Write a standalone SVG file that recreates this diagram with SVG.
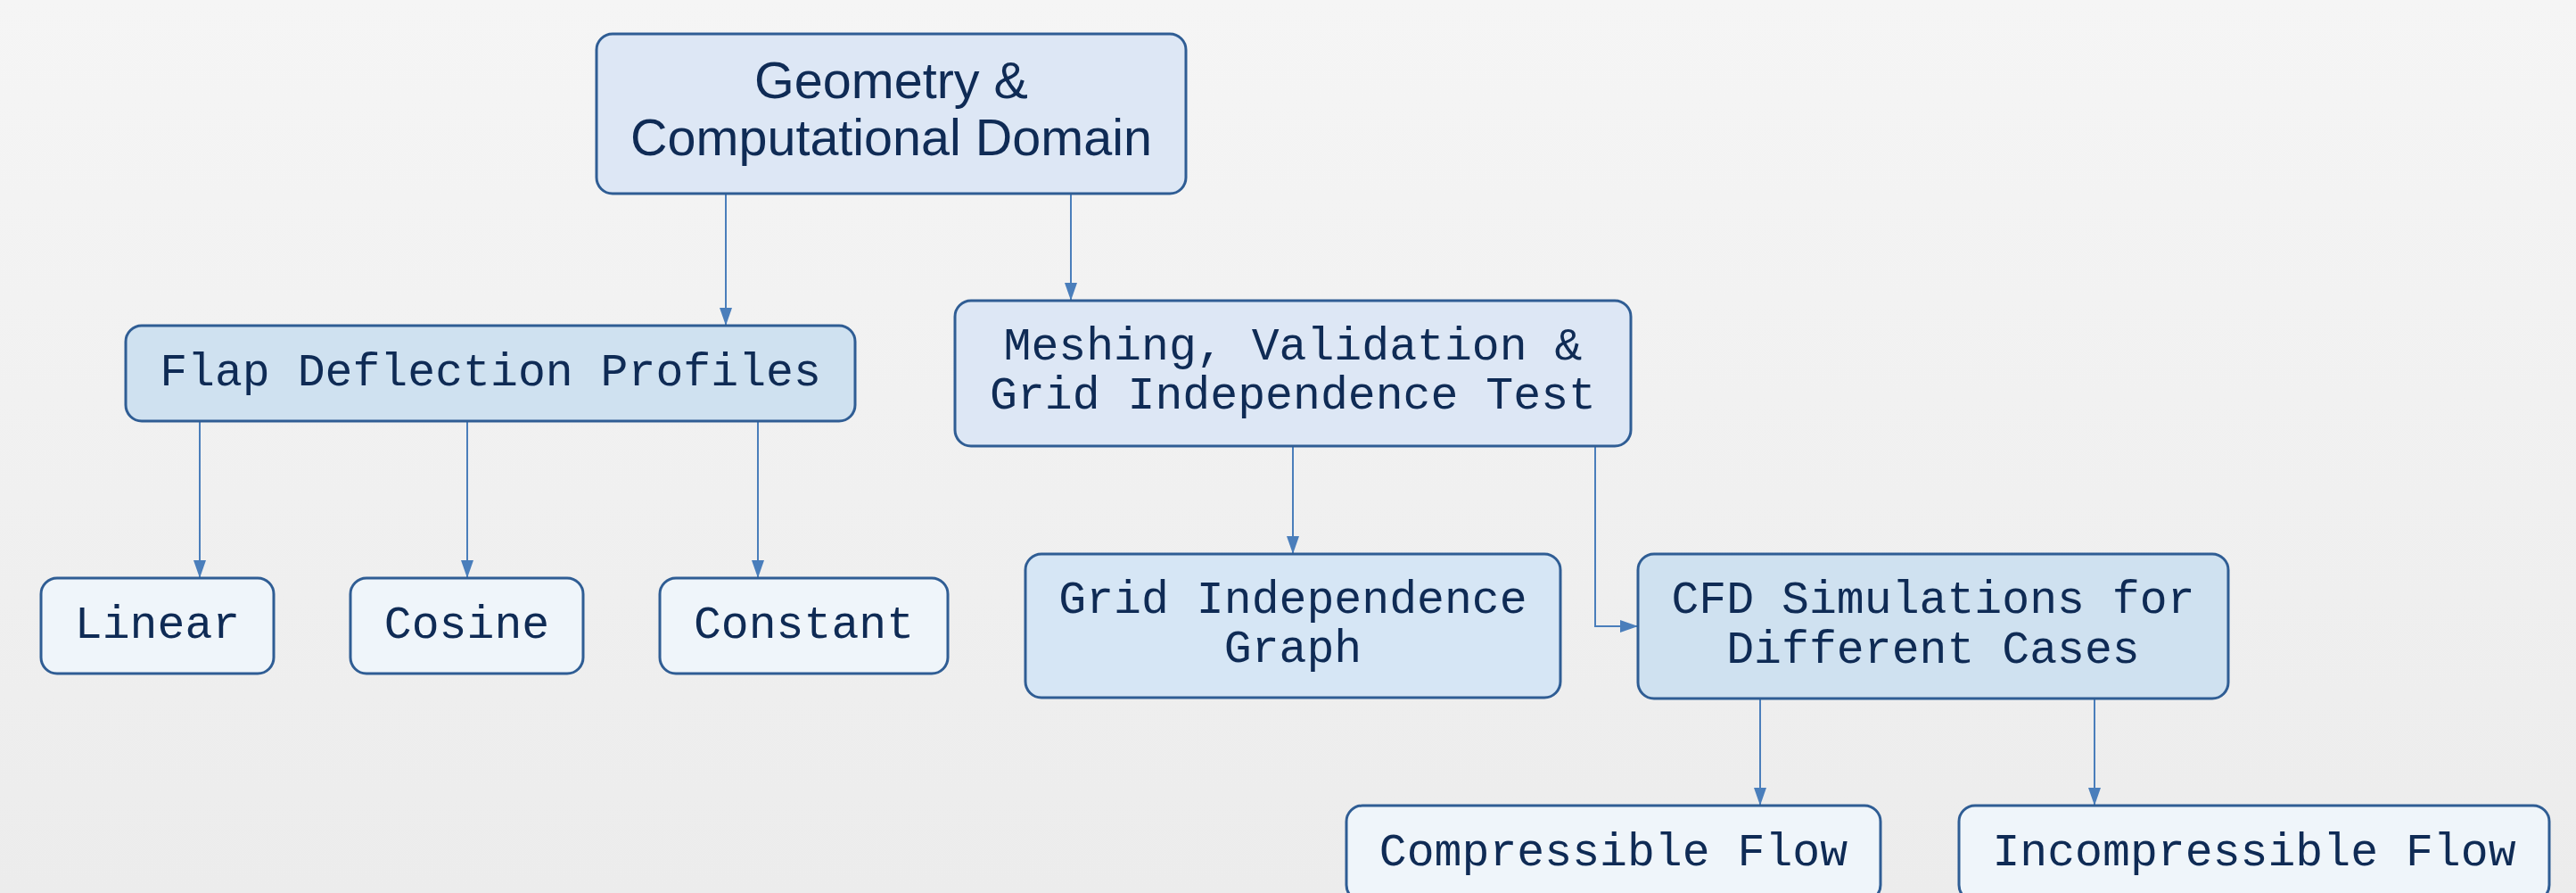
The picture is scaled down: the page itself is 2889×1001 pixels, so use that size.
<svg xmlns="http://www.w3.org/2000/svg" width="2889" height="1001" viewBox="0 0 2889 1001">
<defs>
<linearGradient id="bg" x1="0" y1="0" x2="0" y2="1">
<stop offset="0" stop-color="#f5f5f5"/>
<stop offset="1" stop-color="#ececec"/>
</linearGradient>
<marker id="ah" markerUnits="userSpaceOnUse" markerWidth="20" markerHeight="16" refX="20" refY="8" orient="auto">
<path d="M0,1 L20,8 L0,15 z" fill="#4a7ebb"/>
</marker>
</defs>
<style>
.n{stroke:#2f5d94;stroke-width:3}
.t1{fill:#dde7f5}.t2{fill:#cfe1f0}.t3{fill:#d6e6f5}.lf{fill:#eff5fa}
.sans{font-family:"Liberation Sans",Arial,sans-serif;font-size:57.5px;fill:#0f2b55;text-anchor:middle}
.mono{font-family:"Liberation Mono","Courier New",monospace;font-size:51.5px;fill:#0f2b55;text-anchor:middle}
.c{stroke:#4a7ebb;stroke-width:2;fill:none;marker-end:url(#ah)}
</style>
<rect width="2889" height="1001" fill="url(#bg)"/>
<g id="connectors">
<path class="c" d="M814,217 V365"/>
<path class="c" d="M1201,217 V337"/>
<path class="c" d="M224,472 V648"/>
<path class="c" d="M524,472 V648"/>
<path class="c" d="M850,472 V648"/>
<path class="c" d="M1450,500 V621"/>
<path class="c" d="M1789,500 V702 H1837"/>
<path class="c" d="M1974,783 V903"/>
<path class="c" d="M2349,783 V903"/>
</g>
<g id="root">
<rect class="n t1" x="669" y="38" width="661" height="179" rx="18"/>
<text class="sans" x="999.5" y="110">Geometry &amp;</text>
<text class="sans" x="999.5" y="174">Computational Domain</text>
</g>
<g id="flap">
<rect class="n t2" x="141" y="365" width="818" height="107" rx="18"/>
<text class="mono" x="550" y="432">Flap Deflection Profiles</text>
</g>
<g id="linear">
<rect class="n lf" x="46" y="648" width="261" height="107" rx="18"/>
<text class="mono" x="176.5" y="715">Linear</text>
</g>
<g id="cosine">
<rect class="n lf" x="393" y="648" width="261" height="107" rx="18"/>
<text class="mono" x="523.5" y="715">Cosine</text>
</g>
<g id="constant">
<rect class="n lf" x="740" y="648" width="323" height="107" rx="18"/>
<text class="mono" x="901.5" y="715">Constant</text>
</g>
<g id="meshing">
<rect class="n t1" x="1071" y="337" width="758" height="163" rx="18"/>
<text class="mono" x="1450" y="403">Meshing, Validation &amp;</text>
<text class="mono" x="1450" y="458">Grid Independence Test</text>
</g>
<g id="gridgraph">
<rect class="n t3" x="1150" y="621" width="600" height="161" rx="18"/>
<text class="mono" x="1450" y="687">Grid Independence</text>
<text class="mono" x="1450" y="742">Graph</text>
</g>
<g id="cfd">
<rect class="n t2" x="1837" y="621" width="662" height="162" rx="18"/>
<text class="mono" x="2168" y="687">CFD Simulations for</text>
<text class="mono" x="2168" y="743">Different Cases</text>
</g>
<g id="compressible">
<rect class="n lf" x="1510" y="903" width="599" height="107" rx="18"/>
<text class="mono" x="1809.5" y="970">Compressible Flow</text>
</g>
<g id="incompressible">
<rect class="n lf" x="2197" y="903" width="662" height="107" rx="18"/>
<text class="mono" x="2528" y="970">Incompressible Flow</text>
</g>
</svg>
